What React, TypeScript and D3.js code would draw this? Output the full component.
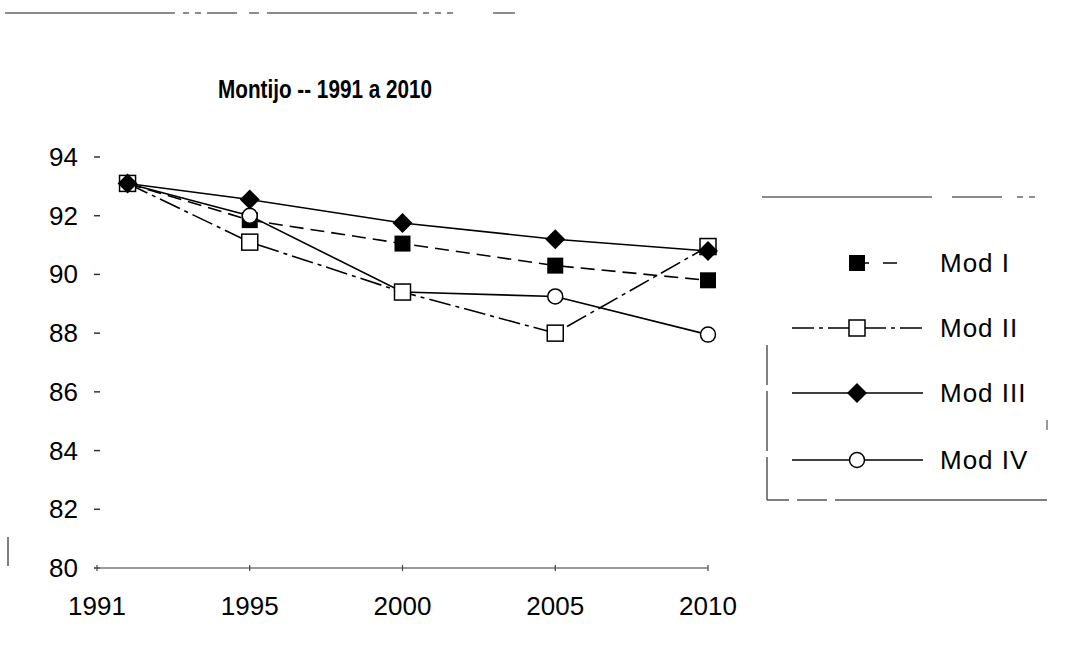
import React from "react";
import * as d3 from "d3";

const years = [1991, 1995, 2000, 2005, 2010];
const xTickValues = [1990, 1995, 2000, 2005, 2010];
const xTickLabels = ["1991", "1995", "2000", "2005", "2010"];
const yTicks = [80, 82, 84, 86, 88, 90, 92, 94];

const modI = [93.1, 91.85, 91.05, 90.3, 89.8];
const modII = [93.1, 91.1, 89.4, 88.0, 90.95];
const modIII = [93.1, 92.55, 91.75, 91.2, 90.8];
const modIV = [93.1, 92.0, 89.4, 89.25, 87.95];

const seriesNames = ["Mod I", "Mod II", "Mod III", "Mod IV"];
const seriesValues = [modI, modII, modIII, modIV];
const seriesDash = ["14 7", "22 5 4 5", "none", "none"];
const seriesMarker = ["filledSquare", "openSquare", "diamond", "openCircle"];
const markerOrder = [0, 3, 1, 2];

const W = 1077;
const H = 649;
const FONT = "'Liberation Sans', Arial, Helvetica, sans-serif";

function Marker({ kind, x, y }: { kind: string; x: number; y: number }) {
  if (kind === "filledSquare")
    return <rect x={x - 8} y={y - 8} width={16} height={16} fill="#000" />;
  if (kind === "openSquare")
    return <rect x={x - 8} y={y - 8} width={16} height={16} fill="#fff" stroke="#000" strokeWidth={1.5} />;
  if (kind === "diamond")
    return <path d={`M${x},${y - 10}L${x + 10},${y}L${x},${y + 10}L${x - 10},${y}Z`} fill="#000" />;
  return <circle cx={x} cy={y} r={7.5} fill="#fff" stroke="#000" strokeWidth={1.5} />;
}

export default function App() {
  const x = d3.scaleLinear().domain([1990, 2010]).range([97, 708]);
  const y = d3.scaleLinear().domain([80, 94]).range([568, 157]);
  const line = d3
    .line<number>()
    .x((_, i) => x(years[i]))
    .y((d) => y(d));

  const legendX = 857;
  const legendY = [263, 328, 393, 460];

  return (
    <svg
      width={W}
      height={H}
      style={{ position: "absolute", left: 0, top: 0, background: "#fff" }}
      fontFamily={FONT}
    >
      <rect x={0} y={0} width={W} height={H} fill="#fff" />
      {/* scan border remnants */}
      <line x1={5} x2={870} y1={13} y2={13} stroke="#666" strokeWidth={1.5} strokeDasharray="170 8 6 6 6 6 30 12 10 8 150 6 6 6 6 6 6 40 22 400" />
      <line x1={8} x2={8} y1={537} y2={566} stroke="#555" strokeWidth={1.5} />

      {/* title */}
      <text x={218} y={98} fontSize={26} fontWeight="bold" textLength={214} lengthAdjust="spacingAndGlyphs" fill="#000">
        Montijo -- 1991 a 2010
      </text>

      {/* y ticks and labels */}
      {yTicks.map((t) => (
        <g key={t}>
          <line x1={94} x2={100} y1={y(t)} y2={y(t)} stroke="#333" strokeWidth={1.5} />
          <text x={78} y={y(t) + 9} fontSize={26} textAnchor="end" fill="#000">
            {t}
          </text>
        </g>
      ))}

      {/* x axis */}
      <line x1={x(1990)} x2={x(2010)} y1={y(80)} y2={y(80)} stroke="#777" strokeWidth={1.5} />
      {xTickValues.map((t, i) => (
        <g key={t}>
          <line x1={x(t)} x2={x(t)} y1={y(80) - 3} y2={y(80) + 3} stroke="#444" strokeWidth={1.2} />
          <text x={x(t)} y={y(80) + 47} fontSize={26} textAnchor="middle" fill="#000">
            {xTickLabels[i]}
          </text>
        </g>
      ))}

      {/* series lines */}
      {seriesValues.map((vals, s) => (
        <path
          key={seriesNames[s]}
          d={line(vals) || ""}
          fill="none"
          stroke="#000"
          strokeWidth={1.6}
          strokeDasharray={seriesDash[s]}
        />
      ))}
      {/* markers */}
      {markerOrder.map((s) =>
        seriesValues[s].map((v, i) => (
          <Marker key={`${s}-${i}`} kind={seriesMarker[s]} x={x(years[i])} y={y(v)} />
        ))
      )}

      {/* legend frame */}
      <line x1={762} x2={1035} y1={197} y2={197} stroke="#666" strokeWidth={1.5} strokeDasharray="170 20 50 15 6 6 30" />
      <line x1={767} x2={767} y1={345} y2={500} stroke="#555" strokeWidth={1.5} strokeDasharray="40 6 60 6 50" />
      <line x1={767} x2={1047} y1={500} y2={500} stroke="#555" strokeWidth={1.5} strokeDasharray="22 8 30 8 220" />
      <line x1={1047} x2={1047} y1={420} y2={430} stroke="#555" strokeWidth={1.2} />

      {/* legend entries */}
      {seriesNames.map((name, s) => (
        <g key={name}>
          <line
            x1={s === 0 ? legendX : 792}
            x2={s === 0 ? 905 : 923}
            y1={legendY[s]}
            y2={legendY[s]}
            stroke="#000"
            strokeWidth={1.6}
            strokeDasharray={s === 0 ? "12 14 14" : seriesDash[s]}
          />
          <Marker kind={seriesMarker[s]} x={legendX} y={legendY[s]} />
          <text x={940} y={legendY[s] + 9} fontSize={26} letterSpacing={1} fill="#000">
            {name}
          </text>
        </g>
      ))}
    </svg>
  );
}
